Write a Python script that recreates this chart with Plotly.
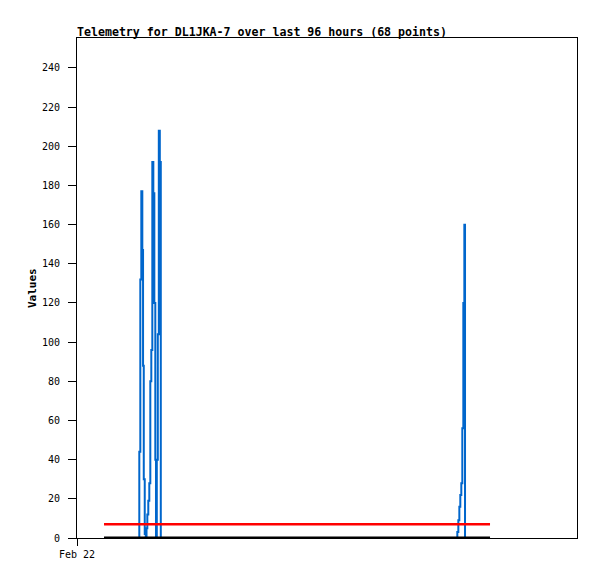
import plotly.graph_objects as go

# hours since Feb 22 00:00
blue_hours = [6.70,
              15.33, 15.45, 15.70, 15.95, 16.20, 16.38, 16.56, 16.80, 17.05, 17.24,
              17.44, 17.68, 17.93, 18.18, 18.43, 18.68, 18.93, 19.18, 19.42, 19.59,
              19.79, 20.04, 20.29, 20.54, 20.78,
              94.20, 94.32, 94.57, 94.82, 95.06, 95.31, 95.56, 95.81, 96.06, 96.23,
              102.43]
blue_values = [0,
               0, 44, 132, 177, 147, 88, 30, 2, 0, 5,
               12, 19, 28, 80, 96, 192, 176, 120, 40, 0,
               40, 104, 208, 192, 0,
               0, 3, 9, 16, 22, 28, 56, 120, 160, 0,
               0]
const_hours = [6.70, 102.43]
red_values = [7, 7]
black_values = [0, 0]

x_tick_vals = [0]
x_tick_text = ["Feb 22"]
y_tick_vals = list(range(0, 241, 20))

title_text = "Telemetry for DL1JKA-7 over last 96 hours (68 points)"
mono = "DejaVu Sans Mono"

fig = go.Figure()
fig.add_trace(go.Scatter(x=blue_hours, y=blue_values, mode="lines",
                         line=dict(color="#0066CC", width=2, shape="hv"),
                         showlegend=False))
fig.add_trace(go.Scatter(x=const_hours, y=red_values, mode="lines",
                         line=dict(color="#FF0000", width=2.5), showlegend=False))
fig.add_trace(go.Scatter(x=const_hours, y=black_values, mode="lines",
                         line=dict(color="#000000", width=3), showlegend=False))

fig.update_layout(
    width=589, height=571,
    margin=dict(l=69, r=20, t=30, b=41),
    paper_bgcolor="white", plot_bgcolor="white",
    font=dict(family=mono, size=10, color="black"),
    showlegend=False,
)
fig.update_xaxes(range=[0, 124], showgrid=False, zeroline=False,
                 showline=True, linecolor="black", linewidth=1, mirror=True,
                 ticks="outside", ticklen=7, tickcolor="black",
                 tickvals=x_tick_vals, ticktext=x_tick_text,
                 tickfont=dict(family=mono, size=10, color="black"))
fig.update_yaxes(range=[0, 255.3], showgrid=False, zeroline=False,
                 showline=True, linecolor="black", linewidth=1, mirror=True,
                 ticks="outside", ticklen=8, tickcolor="black",
                 tickvals=y_tick_vals, ticklabelstandoff=6,
                 tickfont=dict(family=mono, size=10, color="black"))

fig.add_annotation(text="<b>" + title_text + "</b>", xref="paper", yref="paper",
                   x=0, y=1, xanchor="left", yanchor="middle", yshift=6, xshift=-2,
                   showarrow=False, font=dict(family=mono, size=11.6, color="black"))
fig.add_annotation(text="<b>Values</b>", xref="paper", yref="paper",
                   x=0, y=0.5, xanchor="center", yanchor="middle", xshift=-45,
                   textangle=-90, showarrow=False,
                   font=dict(family=mono, size=11, color="black"))

fig.write_html("out.html")
